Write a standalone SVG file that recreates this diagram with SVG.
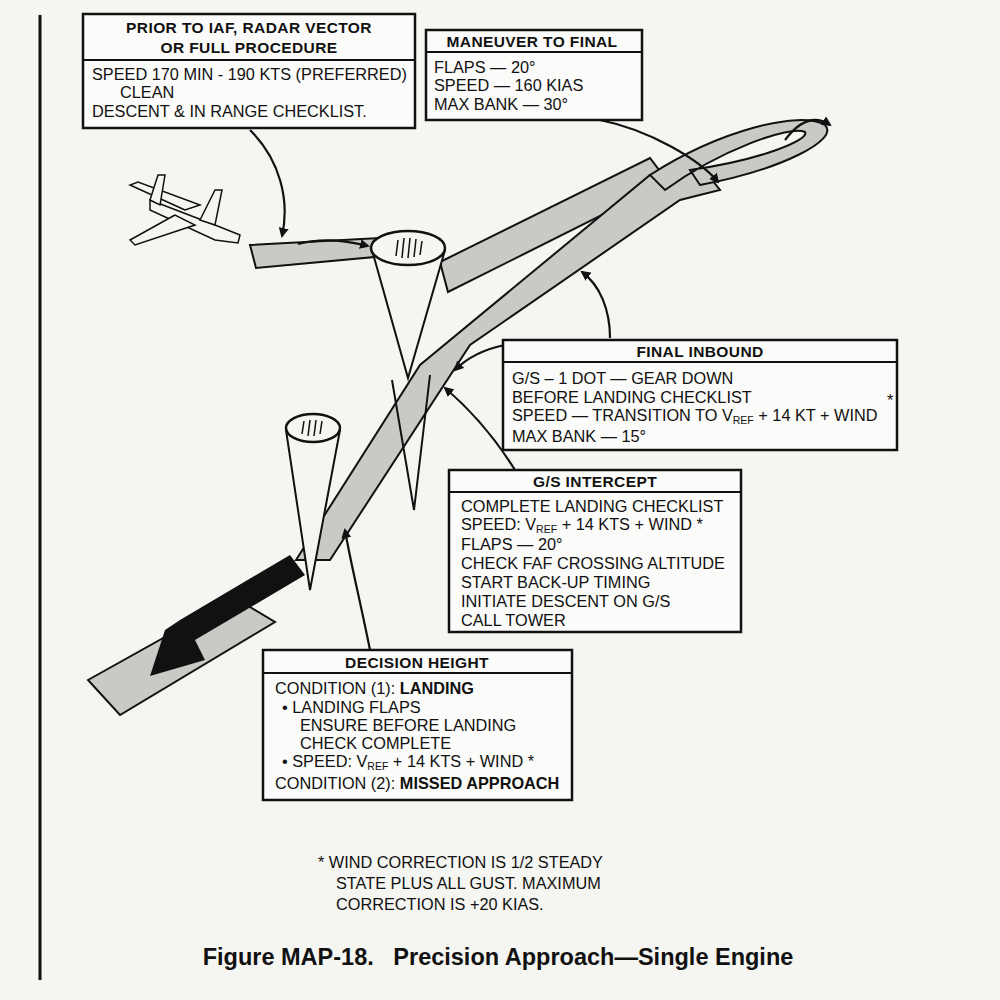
<svg xmlns="http://www.w3.org/2000/svg" width="1000" height="1000" viewBox="0 0 1000 1000">
<style>
.bx{fill:#fbfbf9;stroke:#111;stroke-width:2.5}
.t{font-family:"Liberation Sans",Arial,sans-serif;font-size:16.3px;fill:#111}
.h{font-weight:bold;font-size:15.5px;letter-spacing:0.4px}
.sub{font-size:10.5px}
.rib{fill:#c9c9c6;stroke:#111;stroke-width:2}
.ln{fill:none;stroke:#111;stroke-width:2.2}
</style>
<defs><marker id="ah" markerWidth="10" markerHeight="10" refX="8" refY="5" orient="auto" markerUnits="userSpaceOnUse"><path d="M0,0 L10,5 L0,10 Z" fill="#111"/></marker></defs>
<rect width="1000" height="1000" fill="#f5f5f2"/>
<line x1="40" y1="15" x2="40" y2="980" stroke="#111" stroke-width="3"/>
<g id="scene">
<polygon class="rib" points="88,680 235,598 275,622 120,715"/>
<path class="rib" d="M250,245 L380,238 L385,256 L256,268 Z"/>
<path class="rib" d="M440,262 L650,158 L668,182 L448,292 Z"/>
<path class="rib" d="M296,560 L420,365 L650,175 L700,165 L720,190 L680,200 L470,345 L330,560 Z"/>
<path class="rib" d="M650,175 C720,130 800,110 825,125 C840,140 780,170 700,185 L690,170 C760,160 810,140 805,132 C790,125 720,150 665,190 Z"/>
<polygon points="180,620 290,555 305,575 195,640 205,660 150,676 165,630" fill="#111"/>
<path d="M372,250 L408,378 L445,250" fill="#f5f5f2" stroke="#111" stroke-width="2"/>
<ellipse cx="408" cy="248" rx="37" ry="17" fill="#f5f5f2" stroke="#111" stroke-width="2.5"/>
<path d="M392,380 L414,510 L430,375" fill="none" stroke="#111" stroke-width="2"/>
<path d="M286,430 L310,590 L340,430" fill="#f5f5f2" stroke="#111" stroke-width="2"/>
<ellipse cx="313" cy="428" rx="27" ry="14" fill="#f5f5f2" stroke="#111" stroke-width="2.5"/>
<g stroke="#111" stroke-width="1.5">
<line x1="398" y1="240" x2="396" y2="256"/><line x1="404" y1="238" x2="402" y2="258"/><line x1="410" y1="238" x2="408" y2="258"/><line x1="416" y1="239" x2="414" y2="257"/><line x1="422" y1="241" x2="420" y2="255"/>
<line x1="304" y1="421" x2="302" y2="434"/><line x1="310" y1="420" x2="308" y2="436"/><line x1="316" y1="420" x2="314" y2="436"/><line x1="322" y1="421" x2="320" y2="434"/>
</g>
<g id="plane" fill="#f5f5f2" stroke="#111" stroke-width="1.5">
<path d="M150,200 L215,225 L240,235 L238,243 L215,240 L150,210 Z"/>
<path d="M175,215 L130,240 L135,245 L195,225 Z"/>
<path d="M185,210 L130,185 L138,182 L200,205 Z"/>
<path d="M150,200 L158,175 L165,175 L160,205 Z"/>
<path d="M200,220 L215,190 L222,190 L215,225 Z"/>
</g>
</g>
<g id="connectors">
<path class="ln" d="M250,130 C280,160 290,200 282,236" marker-end="url(#ah)"/>
<path class="ln" d="M298,244 C320,238 345,240 368,246" marker-end="url(#ah)"/>
<path class="ln" d="M600,120 C650,130 700,160 718,182" marker-end="url(#ah)"/>
<path class="ln" d="M785,140 C800,120 815,115 830,125" marker-end="url(#ah)"/>
<path class="ln" d="M610,338 C610,310 600,285 582,272" marker-end="url(#ah)"/>
<path class="ln" d="M505,345 C480,350 465,360 455,370" marker-end="url(#ah)"/>
<path class="ln" d="M515,470 C490,430 465,405 445,388" marker-end="url(#ah)"/>
<path class="ln" d="M370,650 C360,600 350,560 345,530" marker-end="url(#ah)"/>
<path class="ln" d="M290,562 C285,570 280,578 275,584" marker-end="url(#ah)"/>
</g>
<g id="box1"><rect class="bx" x="83" y="14" width="332" height="114"/><line x1="83" y1="60" x2="415" y2="60" stroke="#111" stroke-width="2"/>
<text class="t h" x="249" y="33" text-anchor="middle">PRIOR TO IAF, RADAR VECTOR</text><text class="t h" x="249" y="53" text-anchor="middle">OR FULL PROCEDURE</text>
<text class="t" x="92" y="80">SPEED 170 MIN - 190 KTS (PREFERRED)</text><text class="t" x="120" y="98">CLEAN</text><text class="t" x="92" y="117">DESCENT &amp; IN RANGE CHECKLIST.</text></g>
<g id="box2"><rect class="bx" x="426" y="30" width="216" height="90"/><line x1="426" y1="52" x2="642" y2="52" stroke="#111" stroke-width="2"/>
<text class="t h" x="532" y="47" text-anchor="middle">MANEUVER TO FINAL</text>
<text class="t" x="434" y="73">FLAPS — 20°</text><text class="t" x="434" y="91">SPEED — 160 KIAS</text><text class="t" x="434" y="110">MAX BANK — 30°</text></g>
<g id="box3"><rect class="bx" x="503" y="340" width="394" height="110"/><line x1="503" y1="362" x2="897" y2="362" stroke="#111" stroke-width="2"/>
<text class="t h" x="700" y="357" text-anchor="middle">FINAL INBOUND</text>
<text class="t" x="512" y="384">G/S – 1 DOT — GEAR DOWN</text><text class="t" x="512" y="403">BEFORE LANDING CHECKLIST</text>
<text class="t" x="512" y="421">SPEED — TRANSITION TO V<tspan class="sub" dy="3">REF</tspan><tspan dy="-3"> + 14 KT + WIND</tspan></text><text class="t" x="887" y="406">*</text>
<text class="t" x="512" y="442">MAX BANK — 15°</text></g>
<g id="box4"><rect class="bx" x="449" y="470" width="292" height="162"/><line x1="449" y1="492" x2="741" y2="492" stroke="#111" stroke-width="2"/>
<text class="t h" x="595" y="487" text-anchor="middle">G/S INTERCEPT</text>
<text class="t" x="461" y="512">COMPLETE LANDING CHECKLIST</text>
<text class="t" x="461" y="530">SPEED: V<tspan class="sub" dy="3">REF</tspan><tspan dy="-3"> + 14 KTS + WIND  *</tspan></text>
<text class="t" x="461" y="550">FLAPS — 20°</text><text class="t" x="461" y="569">CHECK FAF CROSSING ALTITUDE</text><text class="t" x="461" y="588">START BACK-UP TIMING</text><text class="t" x="461" y="607">INITIATE DESCENT ON G/S</text><text class="t" x="461" y="626">CALL TOWER</text></g>
<g id="box5"><rect class="bx" x="263" y="650" width="309" height="150"/><line x1="263" y1="673" x2="572" y2="673" stroke="#111" stroke-width="2"/>
<text class="t h" x="417" y="668" text-anchor="middle">DECISION HEIGHT</text>
<text class="t" x="275" y="694">CONDITION (1): <tspan font-weight="bold">LANDING</tspan></text>
<text class="t" x="282" y="713">•  LANDING FLAPS</text><text class="t" x="300" y="731">ENSURE BEFORE LANDING</text><text class="t" x="300" y="749">CHECK COMPLETE</text>
<text class="t" x="282" y="767">•  SPEED: V<tspan class="sub" dy="3">REF</tspan><tspan dy="-3"> + 14 KTS + WIND *</tspan></text>
<text class="t" x="275" y="789">CONDITION (2): <tspan font-weight="bold">MISSED APPROACH</tspan></text></g>
<g id="note"><text class="t" x="318" y="868">* WIND CORRECTION IS 1/2 STEADY</text><text class="t" x="336" y="889">STATE PLUS ALL GUST. MAXIMUM</text><text class="t" x="336" y="910">CORRECTION IS +20 KIAS.</text></g>
<text x="498" y="965" text-anchor="middle" font-family="Liberation Sans,Arial,sans-serif" font-weight="bold" font-size="23.5" fill="#111" xml:space="preserve">Figure MAP-18.   Precision Approach—Single Engine</text>
</svg>
